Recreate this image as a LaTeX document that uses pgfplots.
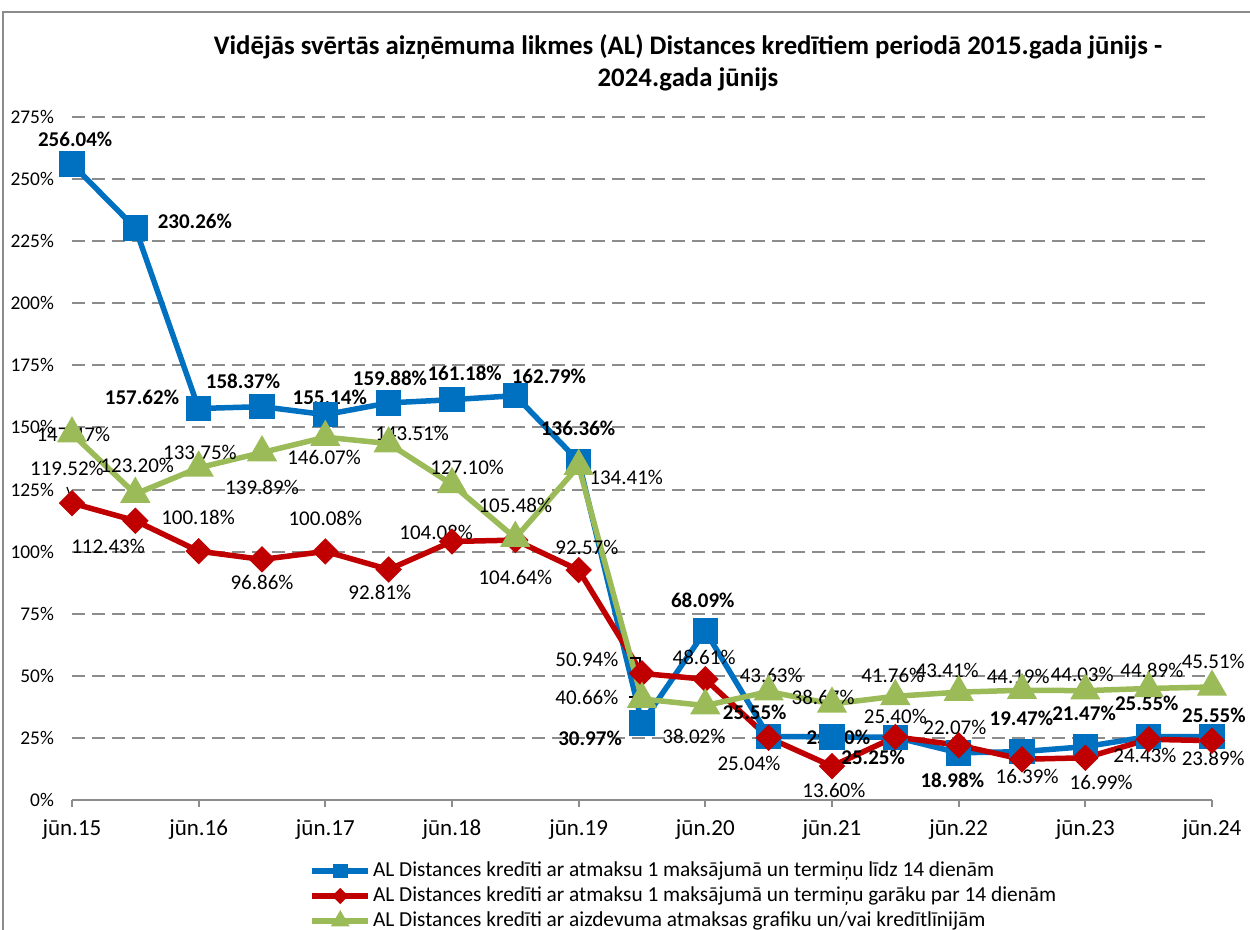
\documentclass[border=0pt]{standalone}
\usepackage{pgfplots}
\pgfplotsset{compat=1.18}
\usepackage{fontspec}
\setmainfont{Carlito}
\definecolor{cblue}{HTML}{0070C0}
\definecolor{cred}{HTML}{C00000}
\definecolor{cgreen}{HTML}{9BBB59}
\definecolor{cgrid}{HTML}{8C8C8C}
\newcommand{\lb}[3]{\node[font=\fontsize{10.5}{12}\selectfont,inner sep=0pt] at (axis cs:#1,#2) {#3};}
\newcommand{\bl}[3]{\node[font=\bfseries\fontsize{10.5}{12}\selectfont,inner sep=0pt] at (axis cs:#1,#2) {#3};}
\begin{document}
\begin{tikzpicture}
\path[use as bounding box] (0pt,0pt) rectangle (625pt,465pt);
\begin{scope}[x=0.5pt,y=0.5pt]
\draw[cgrid, line width=1pt] (3,0) -- (3,918) -- (1250,918);
\node[font=\bfseries\fontsize{13.4}{16}\selectfont, align=center] at (688,867)
  {Vidējās svērtās aizņēmuma likmes (AL) Distances kredītiem periodā 2015.gada jūnijs -\\2024.gada jūnijs};
\end{scope}
\begin{axis}[
  at={(36pt,65pt)}, anchor=south west,
  scale only axis, width=570pt, height=341.5pt,
  xmin=0, xmax=18, ymin=0, ymax=275,
  clip=false,
  axis x line*=bottom, axis y line*=left,
  x axis line style={cgrid, line width=1pt, -},
  y axis line style={draw=none},
  xtick={0,2,...,18},
  xticklabels={jūn.15,jūn.16,jūn.17,jūn.18,jūn.19,jūn.20,jūn.21,jūn.22,jūn.23,jūn.24},
  ytick={0,25,...,275},
  yticklabels={0\%,25\%,50\%,75\%,100\%,125\%,150\%,175\%,200\%,225\%,250\%,275\%},
  tick align=outside,
  major tick length=3.5pt,
  xtick style={cgrid, line width=1pt},
  ytick style={draw=none},
  xticklabel style={font=\fontsize{11.5}{12}\selectfont, yshift=-3pt},
  yticklabel style={font=\fontsize{9.7}{11}\selectfont, xshift=-2pt},
  ymajorgrids,
  grid style={cgrid, line width=1pt, dash pattern=on 6.5pt off 3.5pt},
  legend style={at={(axis description cs:0.208,-0.085)}, anchor=north west,
    draw=none, fill=none, inner sep=0pt, row sep=0pt,
    font=\fontsize{10.67}{12}\selectfont,
    nodes={text height=8pt, text depth=2.5pt, inner sep=1pt}},
  legend cell align=left,
  legend image code/.code={\draw[mark repeat=2,mark phase=2,every mark/.append style={scale=0.45}] plot coordinates {(0pt,0pt) (14pt,0pt) (28pt,0pt)};},
]
\addplot[cblue, line width=2.75pt, mark=square*, mark size=5pt, mark options={solid}] coordinates {
(0,256.04) (1,230.26) (2,157.62) (3,158.37) (4,155.14) (5,159.88) (6,161.18) (7,162.79) (8,136.36) (9,30.97)
(10,68.09) (11,25.55) (12,25.40) (13,25.25) (14,18.98) (15,19.47) (16,21.47) (17,25.55) (18,25.55)};
\addlegendentry{AL Distances kredīti ar atmaksu 1 maksājumā un termiņu līdz 14 dienām}
\addplot[cred, line width=2.75pt, mark=square*, mark size=3.3pt, mark options={solid,rotate=45}] coordinates {
(0,119.52) (1,112.43) (2,100.18) (3,96.86) (4,100.08) (5,92.81) (6,104.08) (7,104.64) (8,92.57) (9,50.94)
(10,48.61) (11,25.04) (12,13.60) (13,25.40) (14,22.07) (15,16.39) (16,16.99) (17,24.43) (18,23.89)};
\addlegendentry{AL Distances kredīti ar atmaksu 1 maksājumā un termiņu garāku par 14 dienām}
\addplot[cgreen, line width=2.75pt, mark=triangle*, mark size=6pt, mark options={solid}] coordinates {
(0,147.47) (1,123.20) (2,133.75) (3,139.89) (4,146.07) (5,143.51) (6,127.10) (7,105.48) (8,134.41) (9,40.66)
(10,38.02) (11,43.63) (12,38.67) (13,41.76) (14,43.41) (15,44.19) (16,44.03) (17,44.89) (18,45.51)};
\addlegendentry{AL Distances kredīti ar aizdevuma atmaksas grafiku un/vai kredītlīnijām}
% blue labels
\bl{0.05}{265.8}{256.04\%}
\bl{1.94}{233.1}{230.26\%}
\bl{1.105}{162.3}{157.62\%}
\bl{2.70}{168.7}{158.37\%}
\bl{4.07}{162.3}{155.14\%}
\bl{5.02}{169.9}{159.88\%}
\bl{6.2}{171.9}{161.18\%}
\bl{7.53}{170.7}{162.79\%}
\bl{7.99}{149.8}{136.36\%}
\bl{8.18}{25.0}{30.97\%}
\bl{9.96}{80.5}{68.09\%}
\bl{10.78}{35.4}{25.55\%}
\bl{12.1}{25.4}{25.40\%}
\bl{12.65}{17.3}{25.25\%}
\bl{13.9}{8.0}{18.98\%}
\bl{14.99}{33.0}{19.47\%}
\bl{15.98}{35.0}{21.47\%}
\bl{16.97}{39.0}{25.55\%}
\bl{18.03}{34.0}{25.55\%}
% red labels
\lb{-0.08}{133.3}{119.52\%}
\lb{0.57}{101.9}{112.43\%}
\lb{1.99}{113.9}{100.18\%}
\lb{3.0}{87.8}{96.86\%}
\lb{4.0}{113.5}{100.08\%}
\lb{4.86}{83.7}{92.81\%}
\lb{5.75}{107.9}{104.08\%}
\lb{7.0}{89.8}{104.64\%}
\lb{8.13}{101.5}{92.57\%}
\lb{8.13}{56.4}{50.94\%}
\lb{9.98}{57.6}{48.61\%}
\lb{10.69}{14.9}{25.04\%}
\lb{12.03}{4.0}{13.60\%}
\lb{13.0}{33.8}{25.40\%}
\lb{13.94}{29.4}{22.07\%}
\lb{15.08}{9.3}{16.39\%}
\lb{16.25}{7.2}{16.99\%}
\lb{16.94}{18.1}{24.43\%}
\lb{18.02}{16.9}{23.89\%}
% green labels
\lb{0.02}{147.0}{147.47\%}
\lb{1.03}{134.9}{123.20\%}
\lb{2.02}{140.1}{133.75\%}
\lb{3.0}{126.0}{139.89\%}
\lb{3.98}{138.1}{146.07\%}
\lb{5.37}{147.4}{143.51\%}
\lb{6.24}{133.7}{127.10\%}
\lb{7.0}{118.8}{105.48\%}
\lb{8.75}{130.0}{134.41\%}
\lb{8.13}{41.1}{40.66\%}
\lb{9.82}{25.4}{38.02\%}
\lb{11.04}{50.3}{43.63\%}
\lb{11.86}{41.1}{38.67\%}
\lb{12.96}{50.3}{41.76\%}
\lb{13.82}{52.3}{43.41\%}
\lb{14.94}{49.9}{44.19\%}
\lb{15.95}{50.7}{44.03\%}
\lb{17.05}{52.3}{44.89\%}
\lb{18.02}{55.6}{45.51\%}
% leader lines
\draw[black, line width=0.6pt] (axis cs:-0.08,126.0) -- (axis cs:0,120.5);
\draw[black, line width=0.6pt] (axis cs:1.03,127.6) -- (axis cs:1.0,123.6);
\draw[black, line width=0.6pt] (axis cs:8.81,57.2) -- (axis cs:8.97,57.2) -- (axis cs:8.97,51.5);
\draw[black, line width=0.6pt] (axis cs:8.80,41.5) -- (axis cs:8.95,41.5) -- (axis cs:8.95,40.3);
\end{axis}
\end{tikzpicture}
\end{document}
